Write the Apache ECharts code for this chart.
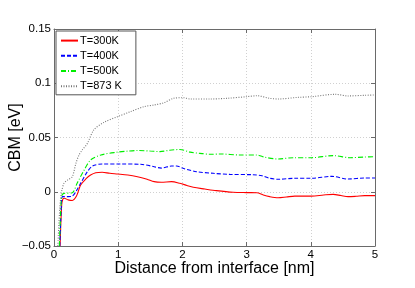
<!DOCTYPE html>
<html><head><meta charset="utf-8">
<script src="https://cdn.jsdelivr.net/npm/echarts@6/dist/echarts.min.js"></script>
<style>html,body{margin:0;padding:0;background:#fff}#c{width:415px;height:288px}</style>
</head><body><div id="c"></div>
<script>
var seriesNames = ['T=300K', 'T=400K', 'T=500K', 'T=873 K'];
var xTicks = [0, 1, 2, 3, 4, 5];
var yTicks = [-0.05, 0, 0.05, 0.1, 0.15];

var x300 = [0.095,0.12,0.14,0.16,0.22,0.285,0.35,0.415,0.5,0.57,0.65,0.75,0.87,0.99,1.15,1.3,1.45,1.56,1.67,1.83,1.96,2.07,2.17,2.35,2.53,2.79,3.0,3.16,3.26,3.36,3.49,3.62,3.75,4.01,4.2,4.35,4.47,4.58,4.7,4.84,5];
var y300 = [-0.05,-0.012,-0.0065,-0.006,-0.0075,-0.008,-0.004,0.0062,0.012,0.0154,0.0175,0.018,0.017,0.0164,0.0155,0.0139,0.0115,0.0093,0.0087,0.0093,0.0078,0.0058,0.0041,0.0025,0.001,-0.0005,-0.0008,-0.0009,-0.003,-0.0045,-0.0055,-0.0048,-0.004,-0.004,-0.003,-0.0024,-0.0035,-0.0045,-0.0042,-0.0036,-0.0036];

var x400 = [0.09,0.115,0.13,0.156,0.22,0.285,0.35,0.415,0.52,0.6,0.75,1.04,1.35,1.56,1.67,1.83,1.91,2.01,2.22,2.48,2.74,3.1,3.24,3.36,3.49,3.75,4.01,4.33,4.58,4.84,5];
var y400 = [-0.05,-0.012,-0.0045,-0.0045,-0.0045,-0.004,0.001,0.0078,0.0185,0.0237,0.0256,0.0256,0.0253,0.0231,0.0218,0.0237,0.0237,0.0216,0.0185,0.017,0.016,0.0157,0.0148,0.0124,0.0115,0.0124,0.0124,0.0142,0.0117,0.0127,0.0127];

var x500 = [0.083,0.11,0.125,0.156,0.285,0.36,0.47,0.57,0.73,0.99,1.15,1.31,1.5,1.65,1.8,1.96,2.12,2.27,2.43,2.59,2.9,3.16,3.29,3.49,3.73,4.01,4.35,4.61,4.84,5];
var y500 = [-0.05,-0.01,-0.003,-0.0015,-0.0009,0.0078,0.02,0.0293,0.0339,0.0365,0.0375,0.038,0.0375,0.037,0.0382,0.039,0.0365,0.0354,0.0345,0.0348,0.0339,0.0339,0.0317,0.0302,0.0314,0.0314,0.0333,0.0314,0.032,0.0323];

var x873 = [0.06,0.09,0.11,0.125,0.156,0.21,0.285,0.34,0.39,0.44,0.52,0.62,0.78,0.99,1.19,1.4,1.56,1.71,1.86,2.01,2.12,2.43,2.69,3.0,3.16,3.36,3.49,3.8,4.01,4.38,4.58,4.84,5];
var y873 = [-0.05,-0.015,-0.003,0.002,0.0078,0.0108,0.0139,0.026,0.0339,0.0385,0.0446,0.057,0.064,0.0692,0.0738,0.0784,0.08,0.082,0.0861,0.0867,0.0855,0.0855,0.0861,0.0876,0.0885,0.0861,0.0855,0.087,0.0876,0.0898,0.0883,0.0889,0.0892];

function pairs(xs, ys) { return xs.map(function (x, i) { return [x, ys[i]]; }); }

var FONT = 'Liberation Sans, Arial, sans-serif';
var styles = [
  {color: '#ff0000', type: 'solid'},
  {color: '#0000ff', type: [4, 2]},
  {color: '#00ee00', type: [5, 2, 1, 2]},
  {color: '#777777', type: [1, 1.5]}
];
var datas = [pairs(x300, y300), pairs(x400, y400), pairs(x500, y500), pairs(x873, y873)];

function fmtY(v) {
  var r = Math.round(v * 100) / 100;
  var s = String(Math.abs(r));
  return (r < 0 ? '\u2212' : '') + s;
}

var gridLine = {show: true, lineStyle: {color: '#d0d0d0', type: [1, 2], width: 1}};
var chart = echarts.init(document.getElementById('c'), null, {renderer: 'canvas'});
chart.setOption({
  animation: false,
  backgroundColor: '#fff',
  grid: {left: 54, right: 40, top: 29, bottom: 42, show: false, containLabel: false, outerBoundsMode: 'none'},
  legend: {
    data: seriesNames,
    orient: 'vertical',
    left: 56, top: 31,
    padding: [4, 14, 3, 4],
    itemGap: 4,
    itemWidth: 17, itemHeight: 14,
    backgroundColor: '#fff',
    borderColor: '#555', borderWidth: 1,
    itemStyle: {color: 'rgba(0,0,0,0)', borderWidth: 0, opacity: 0},
    textStyle: {fontFamily: FONT, fontSize: 11, color: '#000', padding: [0, 0, 0, -3]}
  },
  xAxis: [{
    type: 'value', min: 0, max: 5, interval: 1,
    name: 'Distance from interface [nm]', nameLocation: 'middle', nameGap: 15, nameMoveOverlap: false,
    nameTextStyle: {fontFamily: FONT, fontSize: 16, color: '#000'},
    axisLine: {show: true, onZero: false, lineStyle: {color: '#6a6a6a'}},
    axisTick: {show: true, inside: true, length: 4, lineStyle: {color: '#6a6a6a'}},
    axisLabel: {fontFamily: FONT, fontSize: 11.5, color: '#000', margin: 3,
      formatter: function (v) { return xTicks.indexOf(v) >= 0 ? String(v) : ''; }},
    splitLine: gridLine
  }, {
    type: 'value', position: 'top', min: 0, max: 5, interval: 1,
    axisLine: {show: true, onZero: false, lineStyle: {color: '#6a6a6a'}},
    axisTick: {show: true, inside: true, length: 4, lineStyle: {color: '#6a6a6a'}},
    axisLabel: {show: false}, splitLine: {show: false}
  }],
  yAxis: [{
    type: 'value', min: -0.05, max: 0.15, interval: 0.05,
    name: 'CBM [eV]', nameLocation: 'middle', nameGap: 30, nameRotate: 90, nameMoveOverlap: false,
    nameTextStyle: {fontFamily: FONT, fontSize: 16, color: '#000'},
    axisLine: {show: true, onZero: false, lineStyle: {color: '#6a6a6a'}},
    axisTick: {show: true, inside: true, length: 4, lineStyle: {color: '#6a6a6a'}},
    axisLabel: {fontFamily: FONT, fontSize: 11.5, color: '#000', margin: 3, formatter: fmtY},
    splitLine: gridLine
  }, {
    type: 'value', position: 'right', min: -0.05, max: 0.15, interval: 0.05,
    axisLine: {show: true, onZero: false, lineStyle: {color: '#6a6a6a'}},
    axisTick: {show: true, inside: true, length: 4, lineStyle: {color: '#6a6a6a'}},
    axisLabel: {show: false}, splitLine: {show: false}
  }],
  series: seriesNames.map(function (n, i) {
    return {
      name: n, type: 'line', data: datas[i], symbol: 'none', smooth: 0.3,
      clip: true,
      itemStyle: {color: styles[i].color},
      lineStyle: {color: styles[i].color, width: 1.1, type: styles[i].type}
    };
  })
});
</script></body></html>
